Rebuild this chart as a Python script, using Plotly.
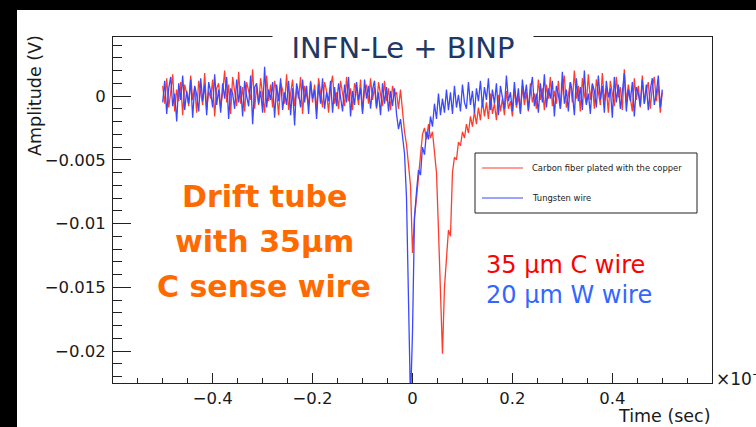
import plotly.graph_objects as go

# ---------------- data (time in units of 1e-6 s, amplitude read in mV) ----------------
T_START_US = -0.5
T_STEP_US = 0.004

SERIES_NAMES = ["Carbon fiber plated with the copper", "Tungsten wire"]

RED_MV = [
    0.8, -0.6, 1.4, -0.9, 0.3, 1.7, -1.2, 0.5, -0.4, 1.1,
    -1.5, 0.9, 0.2, -0.8, 1.6, -0.3, 0.7, -1.3, 1.2, 0.1,
    -0.7, 1.8, -1.1, 0.4, -0.2, 1.3, -1.6, 0.6, 1.0, -0.9,
    0.3, 2.0, -0.5, 0.9, -1.4, 1.5, 0.2, -0.8, 1.9, -0.6,
    0.7, -1.2, 1.1, 0.4, -0.3, 2.1, -1.0, 0.8, -0.7, 1.4,
    0.1, -1.3, 1.6, -0.4, 0.9, -0.9, 1.2, 0.3, -1.5, 1.0,
    0.5, -0.6, 1.7, -1.1, 0.2, 1.3, -0.8, 0.6, -0.2, 1.5,
    -1.4, 0.8, 0.1, -0.7, 1.2, -0.5, 0.9, -1.2, 1.4, 0.0,
    -0.9, 1.1, 0.4, -1.3, 0.7, 1.6, -0.6, 0.3, -1.0, 1.2,
    0.2, -0.8, 1.5, -0.4, 0.6, -1.1, 1.0, 0.5, -0.7, 1.3,
    -1.2, 0.4, 0.9, -0.6, 1.4, -0.3, 0.7, -1.0, 1.1, 0.2,
    -0.8, 1.2, -0.4, 0.6, -1.1, 0.8, 0.1,
    # pulse region
    0.3, -1.0, 0.5, -1.5,
    -2.8, -3.8, -5.5, -7.0, -12.3, -9.5, -8.0, -6.2, -4.5, -3.0,
    -2.5, -3.4, -2.2, -3.3, -2.8, -4.5, -6.0, -10.5, -16.0, -20.2,
    -15.0, -12.5, -10.5, -11.0, -6.0, -4.8, -5.0, -3.6, -3.9, -2.8,
    -3.3, -2.2, -2.9, -1.6, -2.4, -1.2, -2.2, -0.9, -1.9,
    # tail
    -0.3, -1.6, -0.5, -1.8, 0.2, -1.4, -0.6, -1.9, 0.1, -1.2,
    -0.2, -1.5, 0.4, -1.0, -0.4, -1.6, 0.6, -0.9, 0.0, -1.3,
    0.8, -0.7, 0.3, -1.2, 1.0, -0.5, 0.2, -1.0, 1.3, -0.3,
    0.6, -1.1, 0.9, -0.2, 1.5, -0.8, 0.4, -0.6, 1.2, -1.0,
    0.7, 1.6, -0.9, 0.3, 1.1, -0.5, 2.0, -0.2, 0.8, -1.2,
    1.4, 0.1, -0.6, 1.7, -0.3, 0.9, -1.0, 1.3, 0.4, -0.7,
    1.8, -0.4, 0.6, -1.3, 1.2, 0.2, -0.8, 1.5, -0.1, 0.7,
    -1.1, 2.1, -0.5, 0.9, 0.0, -1.2, 1.4, -0.3, 0.8, -0.9,
    1.6, -0.6, 0.4, 1.1, -1.0, 0.7, 1.5, -0.4, 0.9, -1.3, 0.3,
]

BLUE_MV = [
    -0.5, 1.2, -1.4, 0.6, 1.5, -0.8, 0.2, -2.0, 1.0, -0.3,
    1.6, -1.1, 0.4, -0.6, 1.3, -1.7, 0.8, 0.1, -1.2, 1.4,
    -0.4, 0.9, -1.5, 1.1, 0.3, -0.9, 1.7, -0.7, 0.5, -1.3,
    1.0, -0.2, 1.5, -1.8, 0.6, 0.2, -1.0, 1.3, -0.5, 0.8,
    -1.6, 1.2, 0.0, -0.8, 1.6, -2.2, 0.7, 1.0, -0.6, 0.4,
    -1.3, 2.3, -0.9, 0.5, -0.3, 1.1, -1.7, 0.9, -0.4, 1.4,
    -1.1, 0.3, -0.7, 1.2, -1.5, 0.6, -2.3, 1.0, 0.2, -0.9,
    1.3, -0.5, 0.8, -1.4, 1.1, -0.2, 0.5, -1.8, 0.9, -0.6,
    1.4, -1.0, 0.3, -0.4, 1.2, -1.3, 0.7, -0.8, 1.0, -0.1,
    -1.2, 0.9, -0.5, 1.5, -1.6, 0.4, -0.7, 1.1, -0.3, 0.6,
    -1.4, 1.3, -0.2, 0.8, -1.0, 0.5, 1.2, -0.9, 0.3, -1.5,
    1.0, -0.6, 0.7, -1.2, 0.4, -0.8, 0.6,
    # pulse region
    -1.4, -2.6, -1.8, -3.0, -4.5, -8.0, -15.5, -24.0, -18.5, -9.5,
    -7.5, -5.8, -6.2, -4.0, -4.6, -2.8, -3.4, -1.6, -2.4, -0.6,
    -1.8, 0.2, -1.5, -0.2, -1.3, 0.5, -1.1, 0.3, -1.4, 0.8,
    -0.9, 0.1, -1.2, 0.9, -0.5, -1.0, 1.1, -0.7, 0.4, -1.3,
    0.6, -0.4, 1.2,
    # tail
    -0.9, 0.7, -0.3, 1.4, -1.1, 0.5, -0.6, 1.0, -1.5, 0.8,
    0.0, -1.0, 1.6, -0.4, 0.3, -1.2, 1.1, -0.7, 0.6, -1.4,
    1.3, -0.2, 0.9, -1.1, 0.4, 1.5, -0.8, 0.2, -1.3, 1.0,
    -0.5, 1.7, -0.9, 0.6, -0.2, 1.2, -1.6, 0.8, 0.1, -1.0,
    1.9, -0.6, 0.5, -1.2, 1.1, 0.3, -1.5, 1.4, -0.4, 0.7,
    -1.1, 2.0, -0.7, 0.2, -1.4, 1.0, 0.4, -0.9, 1.6, -0.3,
    0.8, -1.3, 1.2, -0.1, 0.6, -1.7, 1.5, -0.5, 0.9, -1.0,
    0.3, 1.8, -1.2, 0.5, -0.4, 1.1, -1.6, 0.7, 0.2, -0.8,
    1.3, -0.6, 0.9, -1.1, 0.5, 1.4, -0.7, 0.2, 1.6, -0.9, 0.5,
]

X_TICK_STEP = 0.2
Y_TICK_STEP = 0.005

# ---------------- layout constants ----------------
W, H = 756, 427
PL, PR, PT, PB = 113, 712, 37, 383
FONT = "DejaVu Sans"
RED = "#ff3d2e"
BLUE = "#3a48ff"


def px(x):
    return (x - PL) / (PR - PL)


def py(y):
    return (PB - y) / (PB - PT)


def volts(mv):
    return [v / 1000.0 for v in mv]


fig = go.Figure()
fig.add_trace(go.Scatter(y=volts(RED_MV), x0=T_START_US, dx=T_STEP_US, mode="lines",
                         name=SERIES_NAMES[0], line=dict(color=RED, width=1.3)))
fig.add_trace(go.Scatter(y=volts(BLUE_MV), x0=T_START_US, dx=T_STEP_US, mode="lines",
                         name=SERIES_NAMES[1], line=dict(color=BLUE, width=1.3)))

fig.update_layout(
    width=W, height=H, autosize=False,
    margin=dict(l=PL, r=W - PR, t=PT, b=H - PB),
    paper_bgcolor="white", plot_bgcolor="white",
    showlegend=False,
    font=dict(family=FONT, color="#1a1a1a"),
)

fig.update_xaxes(
    range=[-0.5995, 0.5995], tickmode="linear", tick0=0, dtick=X_TICK_STEP,
    ticks="inside", ticklen=10, tickcolor="#222", tickwidth=1,
    minor=dict(ticks="inside", dtick=0.05, tick0=0, ticklen=5, tickcolor="#222"),
    showline=True, linecolor="#222", linewidth=1, mirror=True,
    showgrid=False, zeroline=False,
    tickfont=dict(family=FONT, size=16.5, color="#1a1a1a"),
    ticklabelstandoff=0,
)
fig.update_yaxes(
    range=[-0.0225, 0.00463], tickmode="linear", tick0=0, dtick=Y_TICK_STEP,
    ticks="inside", ticklen=18, tickcolor="#222", tickwidth=1,
    minor=dict(ticks="inside", dtick=0.001, tick0=0, ticklen=9, tickcolor="#222"),
    showline=True, linecolor="#222", linewidth=1, mirror=True,
    showgrid=False, zeroline=False,
    tickfont=dict(family=FONT, size=16.5, color="#1a1a1a"),
    ticklabelstandoff=3,
)

shapes = [
    # slide background pieces (black top band / left strip)
    dict(type="rect", xref="paper", yref="paper", x0=px(0), x1=px(W), y0=py(10), y1=py(0),
         fillcolor="black", line=dict(width=0), layer="above"),
    dict(type="rect", xref="paper", yref="paper", x0=px(0), x1=px(17), y0=py(H), y1=py(0),
         fillcolor="black", line=dict(width=0), layer="above"),
    # legend box
    dict(type="rect", xref="paper", yref="paper", x0=px(475), x1=px(697), y0=py(213), y1=py(153),
         fillcolor="white", line=dict(color="#222", width=1), layer="above"),
    dict(type="line", xref="paper", yref="paper", x0=px(482), x1=px(523), y0=py(168), y1=py(168),
         line=dict(color=RED, width=1.2), layer="above"),
    dict(type="line", xref="paper", yref="paper", x0=px(482), x1=px(523), y0=py(198), y1=py(198),
         line=dict(color=BLUE, width=1.2), layer="above"),
]
fig.update_layout(shapes=shapes)

ann = [
    dict(text="INFN-Le + BINP", x=px(403), y=py(47.5), xanchor="center", yanchor="middle",
         font=dict(family=FONT, size=29, color="#1f3864"), bgcolor="white",
         width=258, height=28),
    dict(text="Amplitude (V)", x=px(35), y=py(96), textangle=-90, xanchor="center", yanchor="middle",
         font=dict(family=FONT, size=17.5, color="#1a1a1a")),
    dict(text="Time (sec)", x=px(713), y=py(416), xanchor="right", yanchor="middle",
         font=dict(family=FONT, size=17.5, color="#1a1a1a")),
    dict(text="×10<sup>−6</sup>", x=px(714), y=py(378), xanchor="left", yanchor="middle",
         font=dict(family=FONT, size=17, color="#1a1a1a")),
    dict(text="<b>Drift tube</b>", x=px(264), y=py(196), xanchor="center", yanchor="middle",
         font=dict(family=FONT, size=30, color="#ff6a00")),
    dict(text="<b>with 35µm</b>", x=px(264), y=py(241), xanchor="center", yanchor="middle",
         font=dict(family=FONT, size=30, color="#ff6a00")),
    dict(text="<b>C sense wire</b>", x=px(264), y=py(286), xanchor="center", yanchor="middle",
         font=dict(family=FONT, size=30, color="#ff6a00")),
    dict(text="35 µm C wire", x=px(484), y=py(265), xanchor="left", yanchor="middle",
         font=dict(family=FONT, size=24, color="#ff0000")),
    dict(text="20 µm W wire", x=px(484), y=py(295), xanchor="left", yanchor="middle",
         font=dict(family=FONT, size=24, color="#3366ff")),
    dict(text=SERIES_NAMES[0], x=px(530), y=py(168), xanchor="left", yanchor="middle",
         font=dict(family=FONT, size=8.4, color="#222")),
    dict(text=SERIES_NAMES[1], x=px(530), y=py(198), xanchor="left", yanchor="middle",
         font=dict(family=FONT, size=8.4, color="#222")),
]
for a in ann:
    a.setdefault("xref", "paper")
    a.setdefault("yref", "paper")
    a.setdefault("showarrow", False)
fig.update_layout(annotations=ann)

fig.write_html(
    "out.html",
    config={"displayModeBar": False},
    post_script="document.body.style.margin='0';document.body.style.overflow='hidden';",
)
